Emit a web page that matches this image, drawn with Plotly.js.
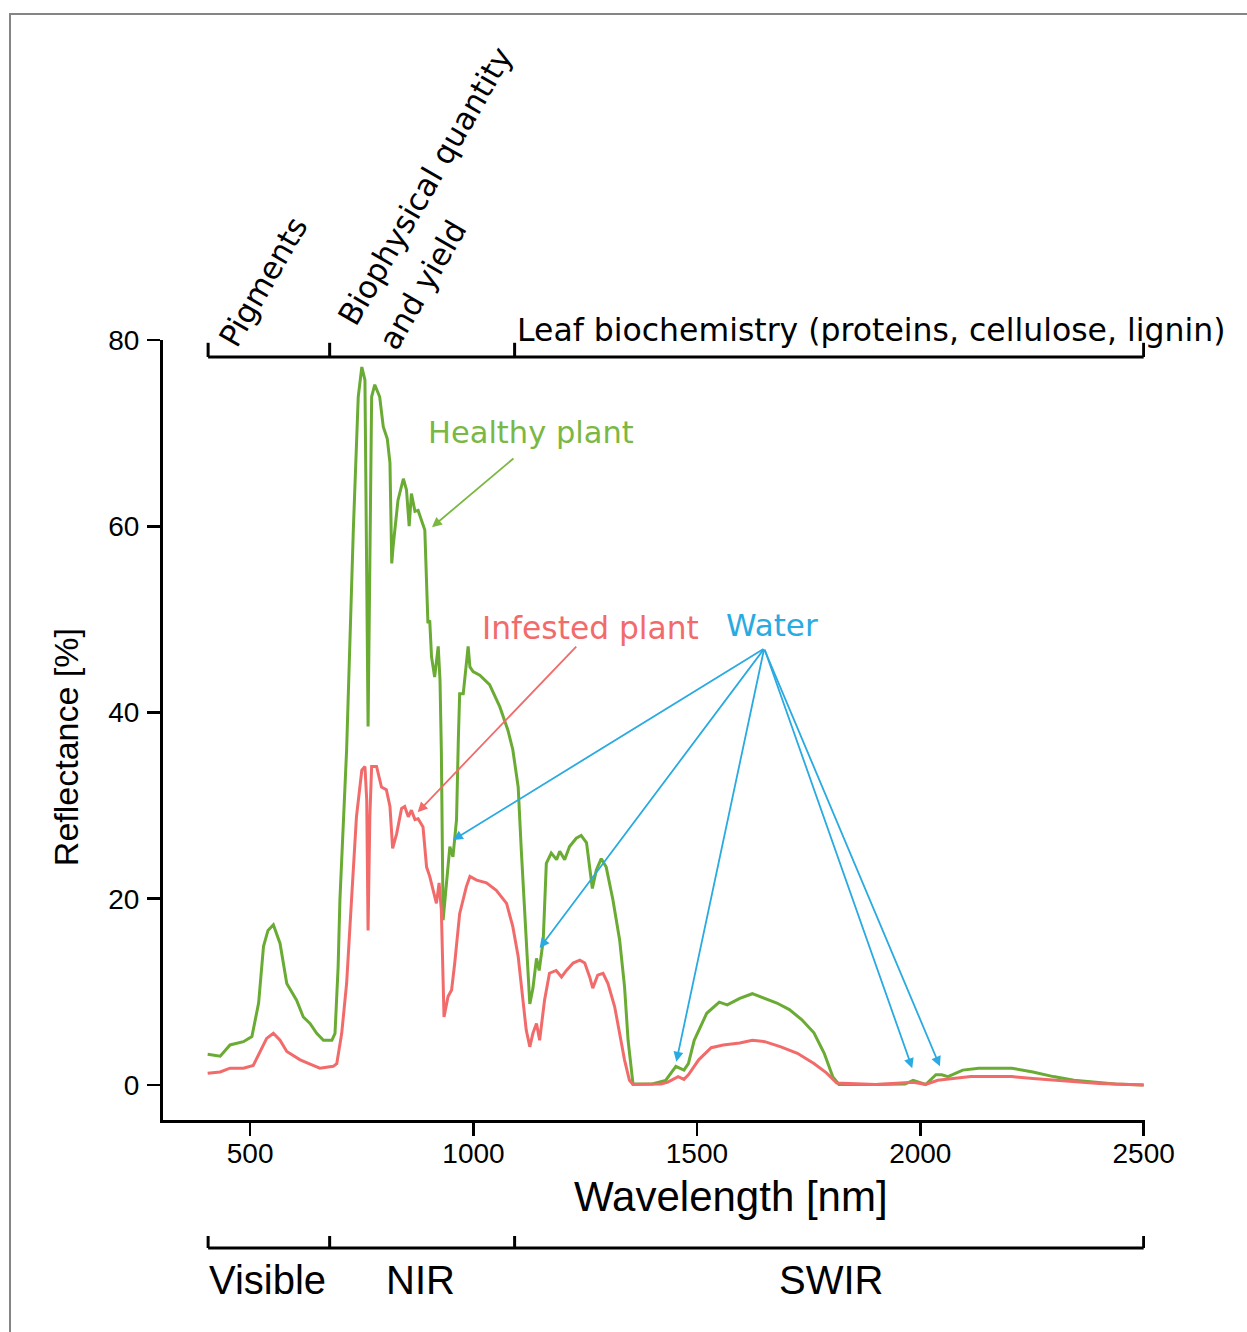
<!DOCTYPE html>
<html><head><meta charset="utf-8">
<script src="https://cdn.plot.ly/plotly-3.0.1.min.js"></script>
<style>body{margin:0;background:#fff}</style>
</head><body><div id="chart" style="width:1247px;height:1332px"></div>
<script>
// ---- data ----
const healthyWl = [405,433,455,485,504,519,530,540,552,567,582,604,619,634,649,664,683,690,697,701,716,731,742,750,757,761,764,768,772,779,790,798,807,813,817,820,831,843,850,856,861,869,876,891,895,898,902,906,913,921,925,928,932,940,947,954,958,962,966,969,977,984,988,992,999,1014,1036,1059,1077,1088,1100,1107,1115,1122,1126,1133,1141,1147,1156,1163,1174,1186,1193,1204,1215,1230,1241,1253,1260,1266,1275,1286,1297,1312,1327,1338,1346,1357,1400,1430,1453,1462,1471,1481,1494,1522,1550,1568,1596,1624,1652,1679,1707,1735,1762,1785,1804,1818,1900,1966,1984,1998,2012,2035,2048,2062,2095,2131,2205,2252,2298,2344,2436,2500];
const healthyR = [3.3,3.1,4.3,4.65,5.2,8.8,14.9,16.6,17.2,15.2,10.9,9.1,7.3,6.6,5.55,4.8,4.8,5.55,12.7,19.9,36,59.6,73.9,77.1,75.7,56,38.5,56,73.9,75.2,73.9,70.7,69.4,66.8,56,57.8,62.8,65.1,63.9,60,63.5,61.6,61.7,59.6,52.4,49.6,49.9,46,43.8,47.1,43.5,36,17.7,22,25.6,24.5,27,28.5,37,42,42,44.9,47.1,44.9,44.4,44,43,40.6,38.1,36,32,25.2,18.1,10.9,8.7,10.4,13.6,12.3,15.5,23.8,24.9,24.2,25.1,24.2,25.6,26.5,26.8,26,23.4,21.1,23.1,24.3,23.4,19.9,15.6,10.6,4.8,0.1,0.1,0.5,2.0,1.8,1.6,2.3,4.8,7.7,8.9,8.6,9.3,9.8,9.3,8.8,8.1,7.0,5.6,3.4,0.9,0.05,0.05,0.1,0.5,0.3,0.05,1.1,1.1,0.9,1.6,1.8,1.8,1.4,0.9,0.5,0.1,0];
const infestedWl = [405,433,455,485,507,522,537,552,567,582,612,641,656,686,694,705,716,727,738,750,757,761,764,768,772,783,794,805,813,819,828,839,846,854,861,869,876,887,895,902,910,917,923,928,934,943,951,958,969,977,984,992,1007,1029,1051,1074,1088,1100,1111,1118,1126,1133,1141,1148,1159,1170,1185,1197,1208,1223,1238,1249,1260,1267,1278,1290,1301,1316,1327,1338,1349,1357,1420,1435,1458,1471,1481,1504,1532,1559,1596,1624,1652,1688,1725,1762,1790,1813,1900,1984,2012,2039,2113,2205,2252,2300,2400,2500];
const infestedR = [1.25,1.4,1.8,1.8,2.1,3.6,5.0,5.55,4.8,3.6,2.7,2.1,1.8,2.0,2.3,5.55,10.9,19.9,28.8,33.8,34.2,30.6,16.6,28.8,34.2,34.2,32,31.7,29.9,25.4,27,29.7,29.9,28.8,29.5,28.5,28.6,27.7,23.4,22.4,20.9,19.5,21.7,18.8,7.3,9.5,10.2,13.1,18.4,19.9,21.3,22.4,22,21.7,20.9,19.5,17,13.8,9.1,5.9,4.1,5.55,6.6,4.8,9.1,12,12.3,11.6,12.3,13.1,13.4,13.1,11.6,10.4,11.8,12,10.9,8.4,5.55,2.7,0.5,0.05,0.1,0.3,0.9,0.6,1.1,2.7,4.0,4.3,4.5,4.8,4.65,4.1,3.4,2.3,1.3,0.2,0.05,0.3,0.05,0.5,0.9,0.9,0.7,0.5,0.15,0];
const xTicks = [500, 1000, 1500, 2000, 2500];
const yTicks = [0, 20, 40, 60, 80];
const regionEdges = [406, 678, 1092, 2500];
const bandLabels = ['Visible', 'NIR', 'SWIR'];
const bandCenters = [540, 882, 1800];
const topLabels = ['Pigments', 'Biophysical quantity', 'and yield'];
const topLabelX = [528, 892, 885];
const topLabelY = [1.075, 1.197, 1.071];
const biochemLabel = 'Leaf biochemistry (proteins, cellulose, lignin)';
const xTitle = 'Wavelength [nm]';
const yTitle = 'Reflectance [%]';
// water absorption arrow targets
const waterWl = [954, 1148, 1454, 1982, 2044];
const waterR = [26.3, 14.7, 2.5, 1.8, 2.0];

const GREEN = '#6aab34', RED = '#f26b6b', BLUE = '#29aae1';
const LBL = 'DejaVu Sans, Verdana, sans-serif';
const ARIAL = 'Liberation Sans, Arial, sans-serif';

const traces = [
  {x: healthyWl, y: healthyR, type: 'scatter', mode: 'lines', name: 'Healthy plant',
   line: {color: GREEN, width: 3}},
  {x: infestedWl, y: infestedR, type: 'scatter', mode: 'lines', name: 'Infested plant',
   line: {color: RED, width: 3}}
];

const shapes = [];
const blk = {color: '#000', width: 3};
// top bracket
shapes.push({type: 'line', xref: 'x', yref: 'y', x0: regionEdges[0], x1: regionEdges[3], y0: 78.17, y1: 78.17, line: blk});
regionEdges.forEach(e => shapes.push({type: 'line', xref: 'x', yref: 'y', x0: e, x1: e, y0: 78.17, y1: 79.7, line: blk}));
// bottom bracket
shapes.push({type: 'line', xref: 'x', yref: 'paper', x0: regionEdges[0], x1: regionEdges[3], y0: -0.1641, y1: -0.1641, line: blk});
regionEdges.forEach(e => shapes.push({type: 'line', xref: 'x', yref: 'paper', x0: e, x1: e, y0: -0.1641, y1: -0.1487, line: blk}));
// frame
shapes.push({type: 'rect', xref: 'paper', yref: 'paper', x0: -0.1558, x1: 1.2, y0: -0.4, y1: 1.418,
  line: {color: '#858585', width: 2}});

const annotations = [];
bandLabels.forEach((t, i) => annotations.push({text: t, xref: 'x', yref: 'paper', x: bandCenters[i], y: -0.205,
  showarrow: false, font: {family: ARIAL, size: 40, color: '#000'}, xanchor: 'center', yanchor: 'middle'}));
topLabels.forEach((t, i) => annotations.push({text: t, xref: 'x', yref: 'paper', x: topLabelX[i], y: topLabelY[i],
  showarrow: false, textangle: -60, font: {family: LBL, size: 31, color: '#000'}, xanchor: 'center', yanchor: 'middle'}));
annotations.push({text: biochemLabel, xref: 'x', yref: 'paper', x: 1092, y: 1.0128, showarrow: false,
  font: {family: LBL, size: 31.5, color: '#000'}, xanchor: 'left', yanchor: 'middle'});
// axis titles
annotations.push({text: xTitle, xref: 'paper', yref: 'paper', x: 0.578, y: -0.0987, showarrow: false,
  font: {family: ARIAL, size: 42, color: '#000'}, xanchor: 'center', yanchor: 'middle'});
annotations.push({text: yTitle, xref: 'paper', yref: 'paper', x: -0.0988, y: 0.478, showarrow: false,
  textangle: -90, font: {family: ARIAL, size: 34, color: '#000'}, xanchor: 'center', yanchor: 'middle'});

annotations.push({text: 'Healthy plant', xref: 'x', yref: 'y', x: 1128, y: 70.1, showarrow: false,
  font: {family: LBL, size: 30.5, color: '#7ab843'}});
annotations.push({text: 'Infested plant', xref: 'x', yref: 'y', x: 1262, y: 49.1, showarrow: false,
  font: {family: LBL, size: 31.3, color: RED}});
annotations.push({text: 'Water', xref: 'x', yref: 'y', x: 1669, y: 49.4, showarrow: false,
  font: {family: LBL, size: 31, color: BLUE}});

annotations.push({text: '', xref: 'x', yref: 'y', x: 907, y: 59.9, ax: 83, ay: -70, showarrow: true,
  arrowhead: 2, arrowsize: 1.1, arrowwidth: 1.8, arrowcolor: '#7ab843', standoff: 0});
annotations.push({text: '', xref: 'x', yref: 'y', x: 875, y: 29.3, ax: 160, ay: -167, showarrow: true,
  arrowhead: 2, arrowsize: 1.1, arrowwidth: 1.8, arrowcolor: RED, standoff: 0});
const tailPx = [[312, -192], [225, -300], [88, -414], [-148, -420], [-176, -418]];
waterWl.forEach((w, i) => annotations.push({text: '', xref: 'x', yref: 'y', x: w, y: waterR[i],
  ax: tailPx[i][0], ay: tailPx[i][1], showarrow: true, arrowhead: 2, arrowsize: 1.1, arrowwidth: 1.8,
  arrowcolor: BLUE, standoff: 0}));

const layout = {
  width: 1247, height: 1332,
  margin: {l: 163, r: 102, t: 340, b: 212},
  paper_bgcolor: '#fff', plot_bgcolor: '#fff',
  showlegend: false,
  xaxis: {range: [305, 2503], tickvals: xTicks, ticktext: xTicks.map(String),
    showgrid: false, zeroline: false, showline: true, linecolor: '#000', linewidth: 3,
    ticks: 'outside', ticklen: 13, tickwidth: 2.5, tickcolor: '#000',
    tickfont: {family: ARIAL, size: 28, color: '#000'}, ticklabelstandoff: -7,
    automargin: false},
  yaxis: {range: [-3.76, 80], tickvals: yTicks, ticktext: yTicks.map(String),
    showgrid: false, zeroline: false, showline: true, linecolor: '#000', linewidth: 3,
    ticks: 'outside', ticklen: 13, tickwidth: 2.5, tickcolor: '#000',
    tickfont: {family: ARIAL, size: 28, color: '#000'}, ticklabelstandoff: 2,
    automargin: false},
  shapes: shapes,
  annotations: annotations
};

Plotly.newPlot('chart', traces, layout, {displayModeBar: false, staticPlot: true});
</script>
</body></html>
